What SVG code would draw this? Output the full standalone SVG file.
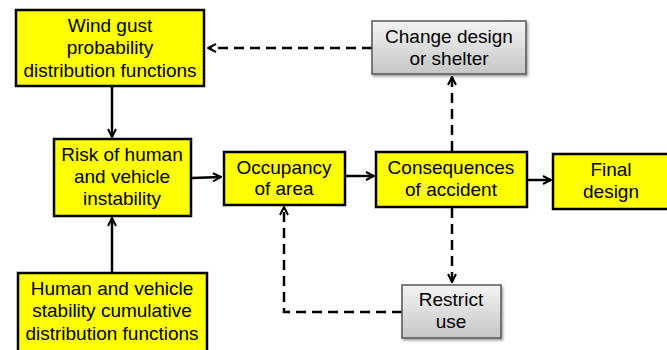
<svg xmlns="http://www.w3.org/2000/svg" width="667" height="350" viewBox="0 0 667 350">
<defs>
<linearGradient id="gray" x1="0" y1="0" x2="0" y2="1">
<stop offset="0" stop-color="#f4f4f4"/>
<stop offset="1" stop-color="#c6c6c6"/>
</linearGradient>
<marker id="arr" viewBox="0 0 10 10" refX="9" refY="5" markerWidth="10" markerHeight="10" markerUnits="userSpaceOnUse" orient="auto">
<path d="M1,1 L9,5 L1,9" fill="none" stroke="#000" stroke-width="2"/>
</marker>
<filter id="sh" x="-10%" y="-10%" width="130%" height="140%">
<feDropShadow dx="1.5" dy="2" stdDeviation="1.2" flood-color="#000" flood-opacity="0.35"/>
</filter>
</defs>
<style>
.y{fill:#ffff00;stroke:#000;stroke-width:2.5}
.g{fill:url(#gray);stroke:#555;stroke-width:1.5;filter:url(#sh)}
text{font-family:"Liberation Sans",Arial,sans-serif;font-size:19px;fill:#000;text-anchor:middle}
.c{fill:none;stroke:#000;stroke-width:2.5;marker-end:url(#arr)}
.d{stroke-dasharray:10 6}
</style>
<rect width="667" height="350" fill="#fff"/>
<g id="connectors">
<line class="c" x1="112" y1="87" x2="112" y2="137"/>
<line class="c" x1="112" y1="273" x2="112" y2="218"/>
<line class="c" x1="192" y1="178" x2="221" y2="177"/>
<line class="c" x1="346" y1="176" x2="374" y2="176"/>
<line class="c" x1="528" y1="180" x2="551" y2="180"/>
<line class="c d" x1="372" y1="48" x2="208" y2="48"/>
<line class="c d" x1="452" y1="151" x2="452" y2="77"/>
<line class="c d" x1="452" y1="208" x2="452" y2="282"/>
<polyline class="c d" points="402,312 284,312 284,207"/>
</g>
<g id="wind-gust">
<rect class="y" x="16" y="10" width="188" height="76"/>
<text x="110" y="32">Wind gust</text>
<text x="110" y="54">probability</text>
<text x="110" y="77">distribution functions</text>
</g>
<g id="risk">
<rect class="y" x="54" y="139" width="137" height="77"/>
<text x="122" y="161">Risk of human</text>
<text x="122" y="183">and vehicle</text>
<text x="122" y="205">instability</text>
</g>
<g id="occupancy">
<rect class="y" x="224" y="152" width="121" height="53"/>
<text x="284" y="174">Occupancy</text>
<text x="284" y="195">of area</text>
</g>
<g id="change-design">
<rect class="g" x="372" y="21" width="154" height="53"/>
<text x="449" y="43">Change design</text>
<text x="449" y="65">or shelter</text>
</g>
<g id="consequences">
<rect class="y" x="376" y="152" width="151" height="55"/>
<text x="451" y="174">Consequences</text>
<text x="451" y="196">of accident</text>
</g>
<g id="final-design">
<rect class="y" x="553" y="154" width="120" height="55"/>
<text x="611" y="176">Final</text>
<text x="611" y="198">design</text>
</g>
<g id="human-stability">
<rect class="y" x="18" y="273" width="189" height="85"/>
<text x="112" y="295">Human and vehicle</text>
<text x="112" y="317">stability cumulative</text>
<text x="112" y="340">distribution functions</text>
</g>
<g id="restrict-use">
<rect class="g" x="402" y="285" width="99" height="53"/>
<text x="451" y="306">Restrict</text>
<text x="451" y="328">use</text>
</g>
</svg>
